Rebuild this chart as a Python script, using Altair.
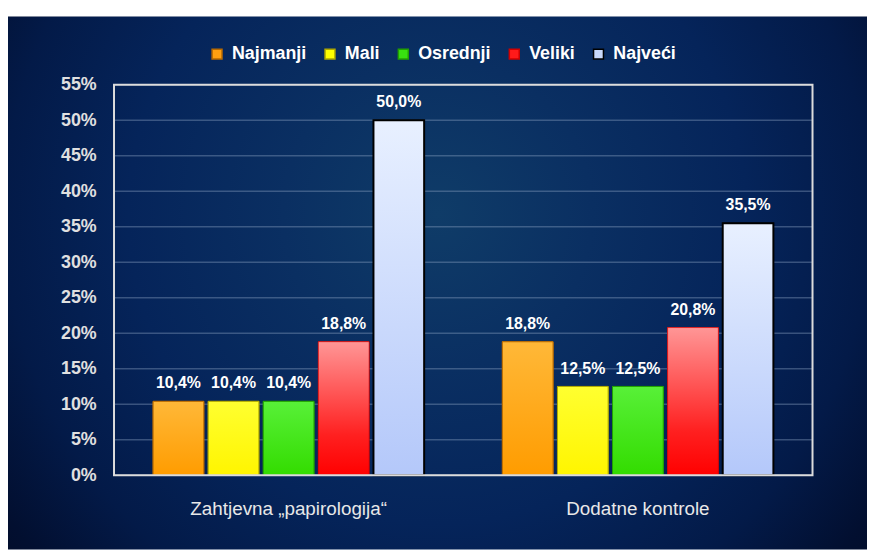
import altair as alt
import pandas as pd

groups = ["Zahtjevna „papirologija“", "Dodatne kontrole"]
categories = ["Najmanji", "Mali", "Osrednji", "Veliki", "Najveći"]
values_g1 = [10.4, 10.4, 10.4, 18.8, 50.0]
values_g2 = [18.8, 12.5, 12.5, 20.8, 35.5]
y_ticks = [0, 5, 10, 15, 20, 25, 30, 35, 40, 45, 50, 55]

solid_colors = ["#FFA010", "#FFFF00", "#38E010", "#FF1A1A", "#C8D8FA"]
stroke_colors = ["#B86A00", "#B0A800", "#22A000", "#D00000", "#000000"]
grad_stops = [
    [("#FFB838", 0), ("#FF9C00", 1)],
    [("#FFFF30", 0), ("#FFF500", 1)],
    [("#58F038", 0), ("#33DC00", 1)],
    [("#FF9696", 0), ("#FF2020", 0.7), ("#FF0000", 1)],
    [("#E8F0FF", 0), ("#B4C8FA", 1)],
]
stroke_widths = [1, 1, 1, 0.5, 2]

rows = []
for g, vals in zip(groups, [values_g1, values_g2]):
    for c, v in zip(categories, vals):
        rows.append({"group": g, "category": c, "value": v,
                     "label": f"{v:.1f}%".replace(".", ",")})
df = pd.DataFrame(rows)

W, H = 705, 394
PAD = {"left": 107, "top": 75, "right": 55, "bottom": 75}
FONT = "Liberation Sans, Arial, sans-serif"

y_scale = alt.Scale(domain=[0, 55], nice=False, zero=True)
y_axis = alt.Axis(title=None, values=y_ticks, labelExpr="datum.value + '%'",
                  ticks=False, domain=False, grid=False, labelPadding=18,
                  labelFont=FONT, labelFontSize=18, labelFontWeight="bold",
                  labelColor="#E0E0E0", zindex=1)

x_enc = alt.X("group:N", sort=groups,
              scale=alt.Scale(domain=groups, paddingInner=0, paddingOuter=0),
              axis=alt.Axis(title=None, labelAngle=0, ticks=False, domain=False,
                            grid=False, labelPadding=25, labelBaseline="top",
                            labelFont=FONT, labelFontSize=19, labelLimit=0,
                            labelFontWeight="normal", labelColor="#E8E8E8",
                            zindex=1))
xo_enc = alt.XOffset("category:N", sort=categories,
                     scale=alt.Scale(domain=categories, paddingInner=0.08,
                                     paddingOuter=0.71))
y_enc = alt.Y("value:Q", scale=y_scale, axis=y_axis)

bg_grad = alt.RadialGradient(
    gradient="radial", x1=0.5, y1=0.42, r1=0, x2=0.5, y2=0.42, r2=0.72,
    stops=[alt.GradientStop(color="#0F3C68", offset=0),
           alt.GradientStop(color="#0A2F62", offset=0.25),
           alt.GradientStop(color="#05245A", offset=0.5),
           alt.GradientStop(color="#031A48", offset=0.7),
           alt.GradientStop(color="#020F30", offset=0.85),
           alt.GradientStop(color="#010920", offset=1)])

one = alt.Data(values=[{"a": 1}])
background = alt.Chart(one).mark_rect(fill=bg_grad, strokeWidth=0).encode(
    x=alt.value(-PAD["left"]), x2=alt.value(W + PAD["right"]),
    y=alt.value(6 - PAD["top"]), y2=alt.value(H + PAD["bottom"]))

grid = alt.Chart(pd.DataFrame({"value": y_ticks})).mark_rule(
    color="#8AA0C0", opacity=0.4, strokeWidth=1.5).encode(y=y_enc)

base = alt.Chart(df).mark_bar(strokeWidth=1).encode(
    x=x_enc, xOffset=xo_enc, y=y_enc,
    color=alt.Color("category:N", sort=categories,
                    scale=alt.Scale(domain=categories, range=solid_colors),
                    legend=alt.Legend(title=None, orient="none", direction="horizontal",
                                      legendX=95, legendY=-40, padding=0,
                                      symbolType="square", symbolSize=100,
                                      symbolStrokeWidth=1.5, labelFont=FONT,
                                      labelFontSize=18, labelFontWeight="bold",
                                      labelColor="#FFFFFF", labelOffset=6,
                                      columnPadding=14, zindex=1)),
    stroke=alt.Stroke("category:N", sort=categories,
                      scale=alt.Scale(domain=categories, range=stroke_colors),
                      legend=None),
)

layers = [background, grid, base]
for c, stops, sc, sw in zip(categories, grad_stops, stroke_colors, stroke_widths):
    grad = alt.LinearGradient(gradient="linear", x1=0, y1=0, x2=0, y2=1,
                              stops=[alt.GradientStop(color=col, offset=o) for col, o in stops])
    layers.append(
        alt.Chart(df).transform_filter(alt.datum.category == c)
        .mark_bar(fill=grad, stroke=sc, strokeWidth=sw)
        .encode(x=x_enc, xOffset=xo_enc, y=y_enc)
    )

border = alt.Chart(one).mark_rect(filled=False, stroke="#DCDCDC", strokeWidth=2).encode(
    x=alt.value(0), x2=alt.value(W), y=alt.value(0), y2=alt.value(H))
layers.append(border)

labels = alt.Chart(df).mark_text(baseline="alphabetic", dy=-13, font=FONT,
                                 fontSize=16, fontWeight="bold", color="#FFFFFF").encode(
    x=x_enc, xOffset=xo_enc, y=y_enc, text="label:N")
layers.append(labels)

chart = alt.layer(*layers).properties(
    width=W, height=H, padding=PAD, autosize=alt.AutoSizeParams(type="none"),
    background="#FFFFFF",
).configure_view(stroke=None)

chart.save("out.html", embed_options={"renderer": "svg", "actions": False})
